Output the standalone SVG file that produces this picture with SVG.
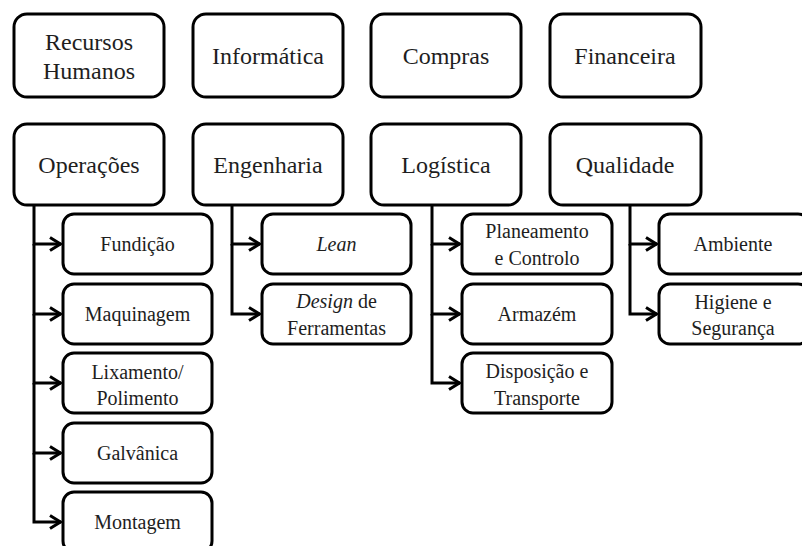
<svg xmlns="http://www.w3.org/2000/svg" width="802" height="546" viewBox="0 0 802 546">
  <defs>
    <marker id="chev" viewBox="0 0 16 18" refX="13.5" refY="9" markerWidth="16" markerHeight="18" markerUnits="userSpaceOnUse" orient="auto">
      <path d="M2.5,2.5 L13,9 L2.5,15.5" fill="none" stroke="#000" stroke-width="3"/>
    </marker>
  </defs>
  <style>
    .box { fill: #fff; stroke: #000; stroke-width: 3; }
    text { font-family: 'Liberation Serif', 'Times New Roman', serif; fill: #1e1e1e; text-anchor: middle; }
    .top { font-size: 24px; }
    .sub { font-size: 20px; }
    .link { fill: none; stroke: #000; stroke-width: 3; }
  </style>
  <rect width="802" height="546" fill="#fff"/>

  <!-- departments, first row -->
  <g id="recursos-humanos">
    <rect class="box" x="14" y="14" width="150" height="83" rx="13"/>
    <text class="top" x="89" y="50">Recursos</text>
    <text class="top" x="89" y="79">Humanos</text>
  </g>
  <g id="informatica">
    <rect class="box" x="193" y="14" width="150" height="83" rx="13"/>
    <text class="top" x="268" y="64">Informática</text>
  </g>
  <g id="compras">
    <rect class="box" x="371" y="14" width="150" height="83" rx="13"/>
    <text class="top" x="446" y="64">Compras</text>
  </g>
  <g id="financeira">
    <rect class="box" x="550" y="14" width="151" height="83" rx="13"/>
    <text class="top" x="625" y="64">Financeira</text>
  </g>

  <!-- departments, second row -->
  <g id="operacoes">
    <rect class="box" x="14" y="124" width="150" height="81" rx="13"/>
    <text class="top" x="89" y="173">Operações</text>
  </g>
  <g id="engenharia">
    <rect class="box" x="193" y="124" width="150" height="81" rx="13"/>
    <text class="top" x="268" y="173">Engenharia</text>
  </g>
  <g id="logistica">
    <rect class="box" x="371" y="124" width="150" height="81" rx="13"/>
    <text class="top" x="446" y="173">Logística</text>
  </g>
  <g id="qualidade">
    <rect class="box" x="550" y="124" width="151" height="81" rx="13"/>
    <text class="top" x="625" y="173">Qualidade</text>
  </g>

  <!-- connectors: one trunk per department, one arrow per unit -->
  <g id="connectors">
    <path class="link" d="M34,205 V244 H61" marker-end="url(#chev)"/>
    <path class="link" d="M34,244 V314 H61" marker-end="url(#chev)"/>
    <path class="link" d="M34,314 V383 H61" marker-end="url(#chev)"/>
    <path class="link" d="M34,383 V453 H61" marker-end="url(#chev)"/>
    <path class="link" d="M34,453 V522 H61" marker-end="url(#chev)"/>

    <path class="link" d="M232,205 V244 H260" marker-end="url(#chev)"/>
    <path class="link" d="M232,244 V314 H260" marker-end="url(#chev)"/>

    <path class="link" d="M432,205 V244 H460" marker-end="url(#chev)"/>
    <path class="link" d="M432,244 V314 H460" marker-end="url(#chev)"/>
    <path class="link" d="M432,314 V383 H460" marker-end="url(#chev)"/>

    <path class="link" d="M630,205 V244 H657" marker-end="url(#chev)"/>
    <path class="link" d="M630,244 V314 H657" marker-end="url(#chev)"/>
  </g>

  <!-- Operações units -->
  <g id="fundicao">
    <rect class="box" x="63" y="214" width="149" height="60" rx="11"/>
    <text class="sub" x="137.5" y="251">Fundição</text>
  </g>
  <g id="maquinagem">
    <rect class="box" x="63" y="284" width="149" height="60" rx="11"/>
    <text class="sub" x="137.5" y="321">Maquinagem</text>
  </g>
  <g id="lixamento-polimento">
    <rect class="box" x="63" y="353" width="149" height="60" rx="11"/>
    <text class="sub" x="137.5" y="379">Lixamento/</text>
    <text class="sub" x="137.5" y="405">Polimento</text>
  </g>
  <g id="galvanica">
    <rect class="box" x="63" y="423" width="149" height="60" rx="11"/>
    <text class="sub" x="137.5" y="460">Galvânica</text>
  </g>
  <g id="montagem">
    <rect class="box" x="63" y="492" width="149" height="60" rx="11"/>
    <text class="sub" x="137.5" y="529">Montagem</text>
  </g>

  <!-- Engenharia units -->
  <g id="lean">
    <rect class="box" x="262" y="214" width="149" height="60" rx="11"/>
    <text class="sub" x="336.5" y="251" font-style="italic">Lean</text>
  </g>
  <g id="design-ferramentas">
    <rect class="box" x="262" y="284" width="149" height="60" rx="11"/>
    <text class="sub" x="336.5" y="308"><tspan font-style="italic">Design</tspan> de</text>
    <text class="sub" x="336.5" y="335">Ferramentas</text>
  </g>

  <!-- Logística units -->
  <g id="planeamento-controlo">
    <rect class="box" x="462" y="214" width="150" height="60" rx="11"/>
    <text class="sub" x="537" y="238">Planeamento</text>
    <text class="sub" x="537" y="265">e Controlo</text>
  </g>
  <g id="armazem">
    <rect class="box" x="462" y="284" width="150" height="60" rx="11"/>
    <text class="sub" x="537" y="321">Armazém</text>
  </g>
  <g id="disposicao-transporte">
    <rect class="box" x="462" y="353" width="150" height="60" rx="11"/>
    <text class="sub" x="537" y="378">Disposição e</text>
    <text class="sub" x="537" y="405">Transporte</text>
  </g>

  <!-- Qualidade units -->
  <g id="ambiente">
    <rect class="box" x="659" y="214" width="150" height="60" rx="11"/>
    <text class="sub" x="733" y="251">Ambiente</text>
  </g>
  <g id="higiene-seguranca">
    <rect class="box" x="659" y="284" width="150" height="60" rx="11"/>
    <text class="sub" x="733" y="309">Higiene e</text>
    <text class="sub" x="733" y="335">Segurança</text>
  </g>
</svg>
